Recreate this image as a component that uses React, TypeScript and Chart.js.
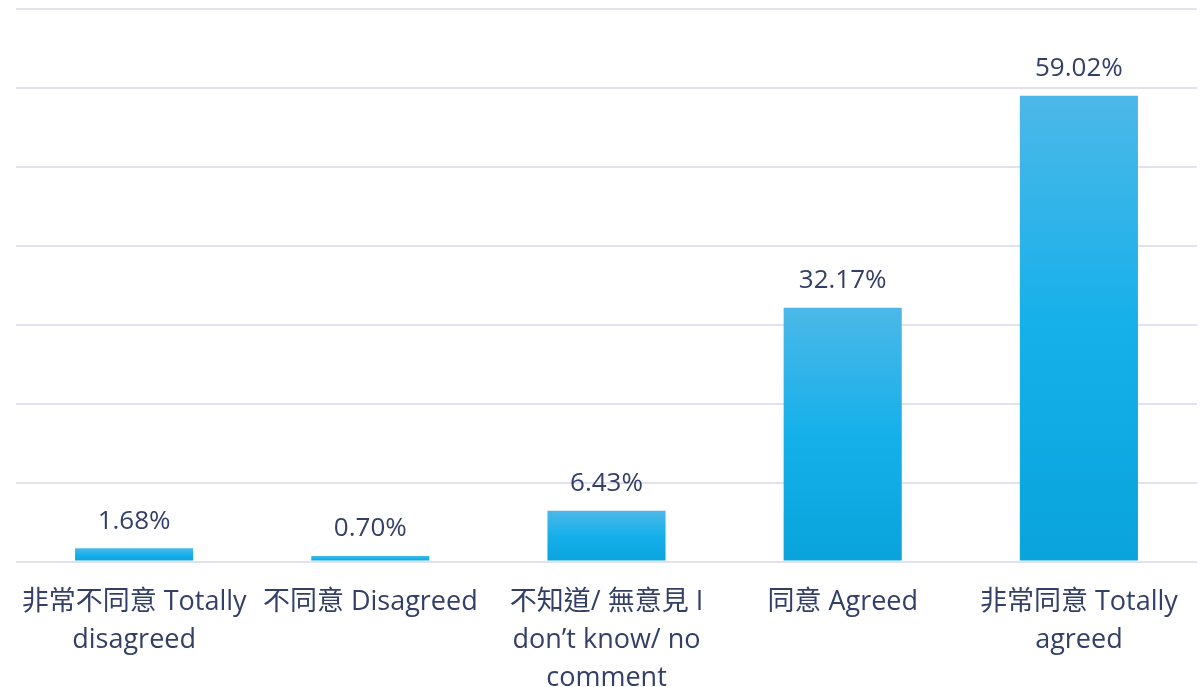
import React, { useEffect, useRef } from "react";
import { Chart, registerables } from "chart.js";

Chart.register(...registerables);

const categories: (string | string[])[] = [
  ["非常不同意 Totally", "disagreed"],
  "不同意 Disagreed",
  ["不知道/ 無意見 I", "don’t know/ no", "comment"],
  "同意 Agreed",
  ["非常同意 Totally", "agreed"],
];
const values = [1.68, 0.7, 6.43, 32.17, 59.02];
const valueLabels = ["1.68%", "0.70%", "6.43%", "32.17%", "59.02%"];

const FONT = "'Open Sans', 'Noto Sans CJK TC', sans-serif";
const TEXT = "#333f66";

const valueLabelPlugin = {
  id: "valueLabels",
  afterDatasetsDraw(chart: any) {
    const { ctx } = chart;
    const meta = chart.getDatasetMeta(0);
    ctx.save();
    ctx.font = `26px ${FONT}`;
    ctx.fillStyle = TEXT;
    ctx.textAlign = "center";
    ctx.textBaseline = "middle";
    meta.data.forEach((bar: any, i: number) => {
      ctx.fillText(valueLabels[i], bar.x, bar.y - 27);
    });
    ctx.restore();
  },
};

export default function App() {
  const ref = useRef<HTMLCanvasElement>(null);
  useEffect(() => {
    if (!ref.current) return;
    const chart = new Chart(ref.current, {
      type: "bar",
      data: {
        labels: categories,
        datasets: [
          {
            data: values,
            barPercentage: 0.5,
            categoryPercentage: 1,
            backgroundColor: (c: any) => {
              const chart = c.chart;
              const y = chart.scales.y;
              if (!y || c.parsed == null) return "#1aaee6";
              const top = y.getPixelForValue(c.parsed.y);
              const bot = y.getPixelForValue(0);
              if (!isFinite(top) || !isFinite(bot) || top === bot) return "#1aaee6";
              const g = chart.ctx.createLinearGradient(0, top, 0, bot);
              g.addColorStop(0, "#4cb8e8");
              g.addColorStop(0.5, "#15b0ea");
              g.addColorStop(1, "#0aa3dc");
              return g;
            },
          },
        ],
      },
      options: {
        animation: false,
        responsive: true,
        maintainAspectRatio: false,
        layout: { padding: { left: 16, right: 7, top: 9, bottom: -24 } },
        plugins: { legend: { display: false }, tooltip: { enabled: false } },
        scales: {
          x: {
            grid: { display: false },
            border: { display: false },
            ticks: {
              color: TEXT,
              font: { family: FONT, size: 27, lineHeight: 1.4 },
              maxRotation: 0,
              autoSkip: false,
              padding: 14,
            },
          },
          y: {
            min: 0,
            max: 70,
            ticks: { display: false, stepSize: 10 },
            grid: { color: "#e0e2f0", lineWidth: 2, drawTicks: false },
            border: { display: false },
          },
        },
      },
      plugins: [valueLabelPlugin],
    });
    return () => chart.destroy();
  }, []);
  return (
    <div style={{ position: "fixed", left: 0, top: 0, width: 1204, height: 687, background: "#fff" }}>
      <canvas ref={ref} />
    </div>
  );
}
